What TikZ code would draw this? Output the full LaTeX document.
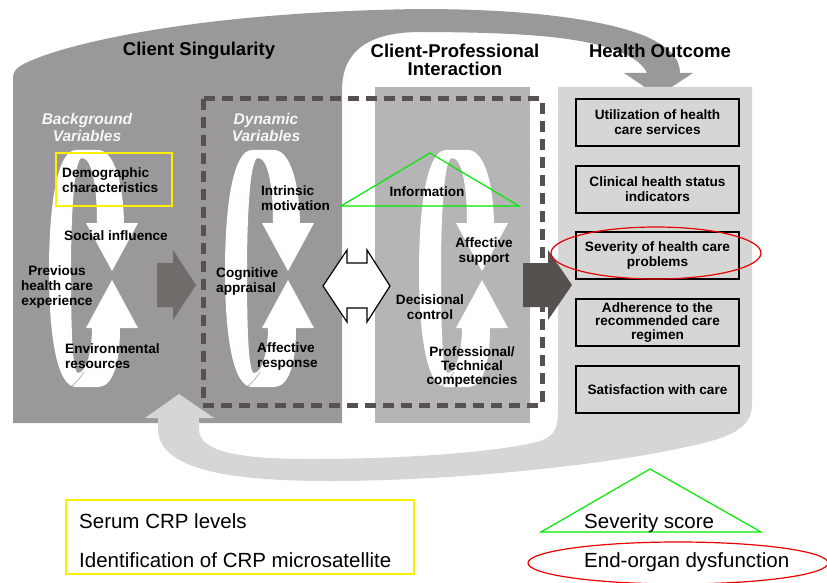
\documentclass[tikz,border=0pt]{standalone}
\usepackage{fontspec}
\setmainfont{Liberation Sans}

\definecolor{csgray}{RGB}{154,152,154}
\definecolor{cpgray}{RGB}{181,181,181}
\definecolor{hogray}{RGB}{214,214,214}
\definecolor{dashgray}{RGB}{86,81,79}
\definecolor{arrowgray}{RGB}{112,108,106}
\definecolor{hlyellow}{RGB}{250,240,0}
\definecolor{hlgreen}{RGB}{0,235,0}
\definecolor{hlred}{RGB}{235,0,0}

\tikzset{
  ttl/.style={font=\bfseries\fontsize{18.5}{18}\selectfont, align=center, inner sep=0pt},
  sub/.style={font=\bfseries\itshape\fontsize{15.5}{17}\selectfont, text=white!94!gray, align=center, inner sep=0pt},
  lbl/.style={font=\bfseries\fontsize{13.6}{15}\selectfont, align=center, inner sep=0pt},
  hobox/.style={draw=black, line width=1.6pt, fill=hogray, minimum width=163pt, minimum height=47pt,
    inner sep=0pt, font=\bfseries\fontsize{13.6}{15}\selectfont, align=center},
  legend/.style={font=\fontsize{20.5}{22}\selectfont, inner sep=0pt, anchor=base west},
  dashbox/.style={dashgray, line width=5pt, dash pattern=on 11pt off 7pt},
  hlline/.style={line width=1.2pt}
}

\begin{document}
\begin{tikzpicture}[x=1pt,y=-1pt]
\useasboundingbox (0,0) rectangle (827,583);

%左邊深灰色區塊與上方弧形箭頭
\fill[csgray] (13,423) -- (13,78)
  .. controls (13,68) and (22,64) .. (40,57)
  .. controls (80,42) and (200,12) .. (420,9)
  .. controls (520,9) and (600,18) .. (645,36)
  .. controls (668,46) and (680,58) .. (680,73)
  -- (693,73) -- (658,96) -- (624,73) -- (647,73)
  .. controls (640,58) and (615,45) .. (560,38)
  .. controls (520,33) and (460,32) .. (420,32)
  .. controls (370,32) and (342,50) .. (342,90)
  -- (342,423) -- cycle;

\fill[cpgray] (375,87) rectangle (530,423);

%右邊淺灰色區塊與下方弧形箭頭
\fill[hogray] (558,87) -- (752,87) -- (752,405)
  .. controls (752,428) and (730,438) .. (686,447)
  .. controls (600,466) and (450,481) .. (330,481)
  .. controls (230,481) and (160,470) .. (158,430)
  -- (158,418) -- (145,418) -- (179,394) -- (214,418) -- (199,418) -- (199,430)
  .. controls (200,452) and (240,459) .. (310,459)
  .. controls (420,459) and (510,450) .. (540,441)
  .. controls (555,436) and (558,428) .. (558,410) -- cycle;

%三個白色循環
\foreach \lx in {112,288,482}{
\begin{scope}[shift={(\lx,276)}]
\fill[white] (12,-53) .. controls (11,-100) and (0,-126) .. (-14,-126) -- (-36,-126)
  .. controls (-55,-126) and (-63,-70) .. (-63,-5)
  .. controls (-63,60) and (-55,111) .. (-36,111) -- (-14,111)
  .. controls (0,111) and (8,90) .. (8,52)
  -- (-20,52)
  .. controls (-20,75) and (-26,97) .. (-34,97)
  .. controls (-40,97) and (-41,45) .. (-41,-5)
  .. controls (-41,-60) and (-38,-118) .. (-30,-118)
  .. controls (-20,-118) and (-15,-90) .. (-15,-53) -- cycle;
\fill[white] (-26,-53) -- (26,-53) -- (0,-5) -- cycle;
\fill[white] (-26,52) -- (26,52) -- (0,4) -- cycle;
\draw[gray!70, line width=0.6pt] (-40,110) .. controls (-35,106) and (-31,101) .. (-28,96);
\end{scope}
}

\draw[dashbox] (203,99) rectangle (542,405);

\fill[arrowgray] (157,263) -- (173,263) -- (173,250) -- (196,285) -- (173,320) -- (173,307) -- (157,307) -- cycle;
\fill[dashgray] (523,263) -- (548,263) -- (548,250) -- (572,285) -- (548,320) -- (548,307) -- (523,307) -- cycle;
\draw[black, line width=1.2pt, fill=white] (323,286) -- (347,250) -- (347,263) -- (367,263) -- (367,250)
  -- (390,286) -- (367,322) -- (367,308) -- (347,308) -- (347,322) -- cycle;

\node[ttl] (tSingular) at (199,51) {Client Singularity};
\node[ttl] (tInteract) at (455,60) {Client-Professional\\Interaction};
\node[ttl] (tOutcome) at (660,51) {Health Outcome};

\node[sub] (sBack) at (87,127) {Background\\Variables};
\node[sub] (sDyn) at (266,127) {Dynamic\\Variables};

\node[lbl, anchor=west, align=left] (lDemo) at (62,180) {Demographic\\characteristics};
\node[lbl] (lSocial) at (116,236) {Social influence};
\node[lbl] (lPrev) at (57,287) {Previous\\health care\\experience};
\node[lbl, anchor=west, align=left] (lEnv) at (65,356) {Environmental\\resources};

\node[lbl, anchor=west, align=left] (lIntr) at (261,198) {Intrinsic\\motivation};
\node[lbl, anchor=west, align=left] (lCogn) at (216,281) {Cognitive\\appraisal};
\node[lbl, anchor=west, align=left] (lAffr) at (257,356) {Affective\\response};

\node[lbl] (lInfo) at (427,192) {Information};
\node[lbl] (lAffs) at (484,251) {Affective\\support};
\node[lbl] (lDeci) at (430,307) {Decisional\\control};
\node[lbl, font=\bfseries\fontsize{13.6}{14}\selectfont] (lProf) at (472,367) {Professional/\\Technical\\competencies};

\node[hobox] (nUtil) at (657.5,122.5) {Utilization of health\\care services};
\node[hobox] (nClin) at (657.5,189.5) {Clinical health status\\indicators};
\node[hobox] (nSev) at (657.5,255.5) {Severity of health care\\problems};
\node[hobox, font=\bfseries\fontsize{13.6}{13.6}\selectfont] (nAdh) at (657.5,322.5) {Adherence to the\\recommended care\\regimen};
\node[hobox] (nSat) at (657.5,389.5) {Satisfaction with care};

%標記
\draw[hlyellow, hlline] (56,153) rectangle (172,206);
\draw[hlgreen, hlline] (341,206) -- (430,153) -- (519,206) -- cycle;
\draw[hlred, hlline] (656,253) ellipse [x radius=105pt, y radius=26pt];

%圖例
\draw[hlyellow, hlline] (66,500) rectangle (414,574);
\node[legend] (gSerum) at (79,528) {Serum CRP levels};
\node[legend] (gMicro) at (79,567) {Identification of CRP microsatellite};
\draw[hlgreen, hlline] (541,532) -- (650,469) -- (761,532) -- cycle;
\node[legend] (gScore) at (584,528) {Severity score};
\draw[hlred, hlline] (678,563) ellipse [x radius=150pt, y radius=21pt];
\node[legend] (gOrgan) at (584,567) {End-organ dysfunction};

\end{tikzpicture}
\end{document}
